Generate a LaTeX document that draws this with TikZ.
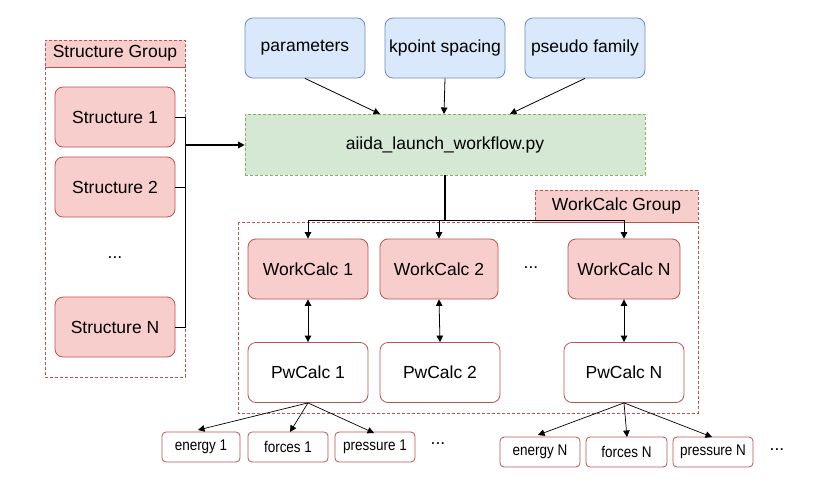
\documentclass[tikz,border=0pt]{standalone}
\usepackage{fontspec}
\setmainfont{Liberation Sans}
\newfontfamily\narrowfont[FakeStretch=0.87]{Liberation Sans}
\usetikzlibrary{arrows.meta}
\definecolor{pinkf}{HTML}{F8CECC}
\definecolor{pinkd}{HTML}{B85450}
\definecolor{bluef}{HTML}{DAE8FC}
\definecolor{blued}{HTML}{6C8EBF}
\definecolor{greenf}{HTML}{D5E8D4}
\definecolor{greend}{HTML}{82B366}
\tikzset{
  box/.style={draw, rounded corners=8pt, minimum width=#1, minimum height=60pt, inner sep=0pt, font=\fontsize{17.5}{20}\selectfont, line width=0.8pt},
  pinkbox/.style={box=#1, fill=pinkf, draw=pinkd},
  whitebox/.style={box=#1, fill=white, draw=pinkd},
  bluebox/.style={box=#1, fill=bluef, draw=blued},
  smallbox/.style={draw=pinkd, fill=white, rounded corners=4pt, minimum width=80pt, minimum height=30pt, inner sep=0pt, font=\narrowfont\fontsize{15.5}{18}\selectfont, line width=0.8pt},
  grp/.style={draw=pinkd, dashed, dash pattern=on 3pt off 2pt, line width=0.6pt},
  grplabel/.style={grp, fill=pinkf, inner sep=0pt, font=\fontsize{17.5}{20}\selectfont},
  arr/.style={-{Triangle[length=6.5pt,width=6.5pt]}, line width=0.8pt},
  darr/.style={{Triangle[length=6.5pt,width=6.5pt]}-{Triangle[length=6.5pt,width=6.5pt]}, line width=0.8pt},
  dots/.style={font=\fontsize{17.5}{20}\selectfont}
}
\begin{document}
\begin{tikzpicture}[x=1pt,y=-1pt]
\useasboundingbox (0,0) rectangle (839,501);
% Structure group
\draw[grp] (45,67) rectangle (185,377);
\node[grplabel, minimum width=140pt, minimum height=27pt] (sg) at (115,53.5) {Structure Group};
\node[pinkbox=120pt] (s1) at (115,117) {Structure 1};
\node[pinkbox=120pt] (s2) at (115,187) {Structure 2};
\node[dots] (sdots) at (115,258) {...};
\node[pinkbox=120pt] (sn) at (115,327) {Structure N};
\coordinate (bj) at (185,145);
\draw[line width=0.8pt] (s1.east) -| (185,117) -- (185,327) -- (sn.east);
\draw[line width=0.8pt] (s2.east) -- (185,187);
% top inputs
\node[bluebox=120pt] (par) at (305,48) {parameters};
\node[bluebox=120pt] (kp) at (445,48) {kpoint spacing};
\node[bluebox=120pt] (ps) at (585,48) {pseudo family};
\node[draw=greend, fill=greenf, dashed, dash pattern=on 3pt off 2pt, line width=0.6pt, minimum width=400pt, minimum height=61pt, inner sep=0pt, font=\fontsize{17.5}{20}\selectfont] (main) at (445,144.5) {aiida\_launch\_workflow.py};
\draw[arr, line width=1.3pt] (bj) -- (main.west |- bj);
\draw[arr] (par.south) -- (380,114);
\draw[arr] (kp.south) -- (444,114);
\draw[arr] (ps.south) -- (510,114);
% WorkCalc group
\draw[grp] (238,222) rectangle (698,413);
\node[grplabel, minimum width=163pt, minimum height=32pt] (wg) at (616.5,206) {WorkCalc Group};
\node[pinkbox=120pt] (w1) at (308,269) {WorkCalc 1};
\node[pinkbox=118pt] (w2) at (439,269) {WorkCalc 2};
\node[dots] (wdots) at (531,268) {...};
\node[pinkbox=112pt] (wn) at (624,269) {WorkCalc N};
\node[whitebox=120pt] (p1) at (308,372.5) {PwCalc 1};
\node[whitebox=120pt] (p2) at (440,372.5) {PwCalc 2};
\node[whitebox=120pt] (pn) at (624,372.5) {PwCalc N};
\coordinate (wj) at (445,220);
\draw[line width=1.3pt] (main.south -| wj) -- (wj);
\draw[arr] (wj) -| (w1.north);
\draw[arr] (wj) -| (w2.north);
\draw[arr] (wj) -| (wn.north);
\draw[darr] (w1.south) -- (p1.north);
\draw[darr] (w2.south) -- (p2.north);
\draw[darr] (wn.south) -- (pn.north);
% outputs
\node[smallbox, minimum width=78pt] (e1) at (201,447) {energy 1};
\node[smallbox] (f1) at (288,447) {forces 1};
\node[smallbox] (pr1) at (375,447) {pressure 1};
\node[dots] (d1) at (438,444) {...};
\node[smallbox] (en) at (540,452) {energy N};
\node[smallbox, minimum width=81pt] (fn) at (626.5,452) {forces N};
\node[smallbox] (prn) at (713,452) {pressure N};
\node[dots] (d2) at (777,450) {...};
\draw[arr, line width=0.7pt] (p1.south) -- (198,430);
\draw[arr, line width=0.7pt] (p1.south) -- (290,432);
\draw[arr, line width=0.7pt] (p1.south) -- (374,433);
\draw[arr, line width=0.7pt] (pn.south) -- (538,435);
\draw[arr, line width=0.7pt] (pn.south) -- (627,437);
\draw[arr, line width=0.7pt] (pn.south) -- (712,437);
\end{tikzpicture}
\end{document}
